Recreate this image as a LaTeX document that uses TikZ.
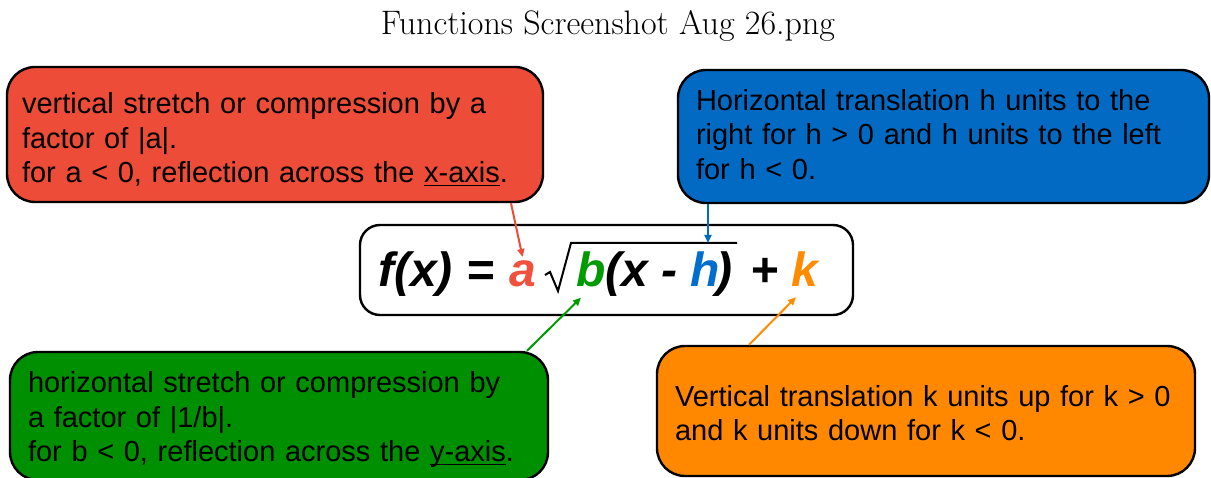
\documentclass[tikz,border=0pt]{standalone}
\usepackage{fontspec}
\usetikzlibrary{arrows.meta}
\newfontfamily\arialf{Liberation Sans}
\newcommand\boxfont{\arialf\fontsize{29}{34.5}\selectfont}
\newcommand\formfont{\arialf\bfseries\itshape\fontsize{48}{52}\selectfont}
\newsavebox\ulbox
\newcommand\uln[1]{\sbox\ulbox{#1}\rlap{\rule[-3.5pt]{\wd\ulbox}{1.6pt}}\usebox\ulbox}
\definecolor{cred}{RGB}{236,76,56}
\definecolor{cblue}{RGB}{3,106,196}
\definecolor{cgreen}{RGB}{0,143,0}
\definecolor{corange}{RGB}{255,136,0}
\definecolor{ta}{RGB}{240,80,62}
\definecolor{tb}{RGB}{0,155,0}
\definecolor{th}{RGB}{0,110,204}
\definecolor{tk}{RGB}{255,140,0}
\begin{document}
\begin{tikzpicture}[x=1pt,y=-1pt,
  cbox/.style={draw=black, line width=2.4pt, rounded corners=28pt},
  btext/.style={align=left, inner sep=0pt, font=\boxfont, text=black},
  arr/.style={line width=2pt, -{Triangle[length=8pt,width=7pt]}},
  ftxt/.style={anchor=base west, inner sep=0pt, font=\formfont}]
\useasboundingbox (0,0) rectangle (1211,478);
\clip (0,0) rectangle (1211,478);
\fill[white] (0,0) rectangle (1211,478);
% title
\node[anchor=base, inner sep=0pt, font=\fontsize{34}{40}\selectfont] (title) at (608,35) {Functions Screenshot Aug 26.png};
% boxes
\node[cbox, fill=cred, minimum width=536pt, minimum height=135pt] (rbox) at (275,134.5) {};
\node[btext, text width=506pt] (rtext) at ([yshift=-5pt]rbox.center)
  {vertical stretch or compression by a\\ factor of |a|.\\ for a {<} 0, reflection across the \uln{x-axis}.};
\node[cbox, fill=cblue, minimum width=531pt, minimum height=133pt] (bbox) at (943.5,136.5) {};
\node[btext, text width=495pt] (btxt) at ([yshift=2pt]bbox.center)
  {Horizontal translation h units to the\\ right for h {>} 0 and h units to the left\\ for h {<} 0.};
\node[cbox, fill=cgreen, minimum width=538pt, minimum height=128pt] (gbox) at (279,416) {};
\node[btext, text width=502pt] (gtext) at ([yshift=-4pt]gbox.center)
  {horizontal stretch or compression by\\ a factor of |1/b|.\\ for b {<} 0, reflection across the \uln{y-axis}.};
\node[cbox, fill=corange, minimum width=538pt, minimum height=130pt] (obox) at (926,411) {};
\node[btext, text width=502pt] (otext) at ([yshift=-2pt]obox.center)
  {Vertical translation k units up for k {>} 0\\ and k units down for k {<} 0.};
% formula box
\node[draw=black, line width=2.4pt, rounded corners=20pt, minimum width=493pt, minimum height=90pt] (fbox) at (606.5,270) {};
\node[ftxt] (f1) at (378,287) {f(x) =};
\node[ftxt, text=ta] (fa) at (509,287) {a};
\node[ftxt, text=tb] (fb) at (576,287) {b};
\node[ftxt] (f2) at (605,287) {(x -};
\node[ftxt, text=th] (fh) at (690,287) {h};
\node[ftxt] (f3) at (716,287) {)};
\node[ftxt] (f4) at (750,287) {+};
\node[ftxt, text=tk] (fk) at (791,287) {k};
\coordinate (ovtop) at (571,243);
\draw[line width=2pt, line join=miter] (545,275) -- (550,272) -- (558,291) -- (ovtop) -- (737,243);
% connectors
\draw[arr, draw=cred, fill=cred] ([xshift=236pt]rbox.south) -- ([yshift=4pt]fa.north);
\draw[arr, draw=cblue, fill=cblue] ([xshift=-235.5pt]bbox.south) -- ([xshift=-235.5pt]bbox.south |- ovtop);
\draw[arr, draw=tb, fill=tb] ([xshift=248pt]gbox.north) -- ([xshift=5pt,yshift=-10pt]fb.south west);
\draw[arr, draw=tk, fill=tk] ([xshift=-177pt]obox.north) -- ([xshift=5pt,yshift=-10pt]fk.south west);
\end{tikzpicture}
\end{document}
